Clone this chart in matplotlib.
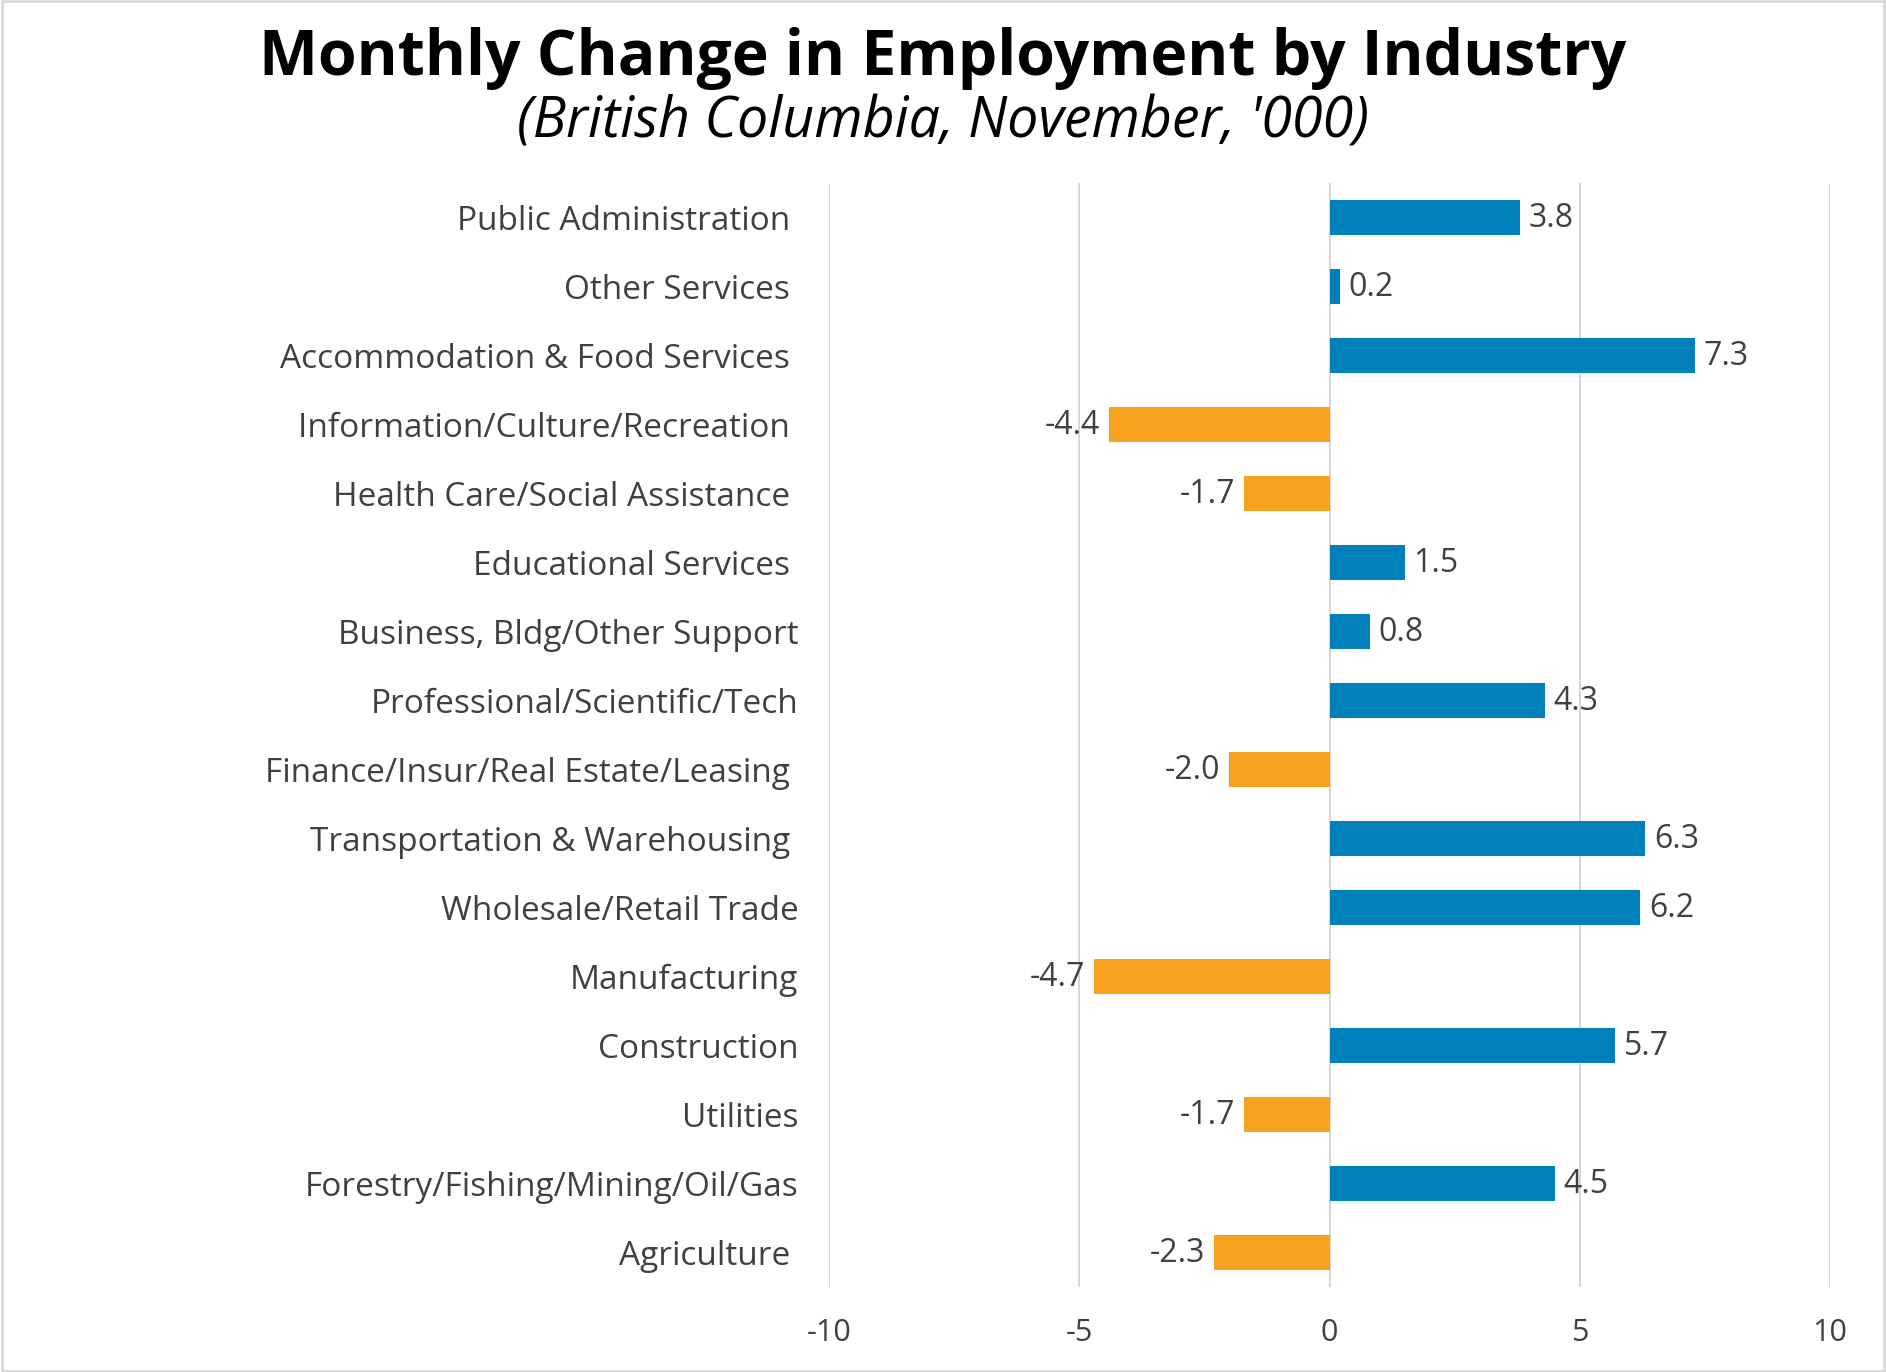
import matplotlib.pyplot as plt
from matplotlib.patches import Rectangle

industries = [
    'Public Administration ', 'Other Services ', 'Accommodation & Food Services ',
    'Information/Culture/Recreation ', 'Health Care/Social Assistance ',
    'Educational Services ', 'Business, Bldg/Other Support',
    'Professional/Scientific/Tech', 'Finance/Insur/Real Estate/Leasing ',
    'Transportation & Warehousing ', 'Wholesale/Retail Trade', 'Manufacturing',
    'Construction', 'Utilities', 'Forestry/Fishing/Mining/Oil/Gas', 'Agriculture ',
]
change = [3.8, 0.2, 7.3, -4.4, -1.7, 1.5, 0.8, 4.3, -2.0, 6.3, 6.2, -4.7, 5.7, -1.7, 4.5, -2.3]
xticks = [-10, -5, 0, 5, 10]

BLUE = '#0081BC'
ORANGE = '#F7A21E'
TXT = '#404040'

plt.rcParams['font.family'] = ['Open Sans', 'DejaVu Sans']

fig = plt.figure(figsize=(18.86, 13.72), dpi=100)
ax = fig.add_axes([829 / 1886, 1 - 1287 / 1372, (1830 - 829) / 1886, (1287 - 183) / 1372])

y = list(range(len(industries)))
colors = [BLUE if v >= 0 else ORANGE for v in change]
ax.barh(y, change, height=0.52, color=colors, zorder=3)

for yi, v in zip(y, change):
    off = 0.18 if v >= 0 else -0.18
    ax.text(v + off, yi + 0.02, f'{v:.1f}', va='center', ha='left' if v >= 0 else 'right',
            fontsize=23, color=TXT)

ax.set_xlim(-10, 10)
ax.set_ylim(len(industries) - 0.5, -0.5)
ax.set_xticks(xticks)
ax.set_xticklabels([str(t) for t in xticks], fontsize=22, color=TXT)
ax.set_yticks(y)
ax.set_yticklabels(industries, fontsize=24, color=TXT, va='center_baseline')
ax.tick_params(axis='both', length=0)
ax.tick_params(axis='x', pad=22)
ax.tick_params(axis='y', pad=22)
ax.grid(axis='x', color='#d0d0d0', linewidth=1.2, zorder=0)
for s in ax.spines.values():
    s.set_visible(False)

fig.text(0.5, 1 - 58 / 1372, 'Monthly Change in Employment by Industry', ha='center', va='center',
         fontsize=45, fontweight='bold', color='black')
fig.text(0.5, 1 - 123 / 1372, "(British Columbia, November, '000)", ha='center', va='center',
         fontsize=40, style='italic', color='black')

fig.patches.append(Rectangle((0.0008, 0.001), 0.9984, 0.998, transform=fig.transFigure,
                             fill=False, edgecolor='#d9d9d9', linewidth=2))

fig.savefig('out.png', dpi=100, facecolor='white')
